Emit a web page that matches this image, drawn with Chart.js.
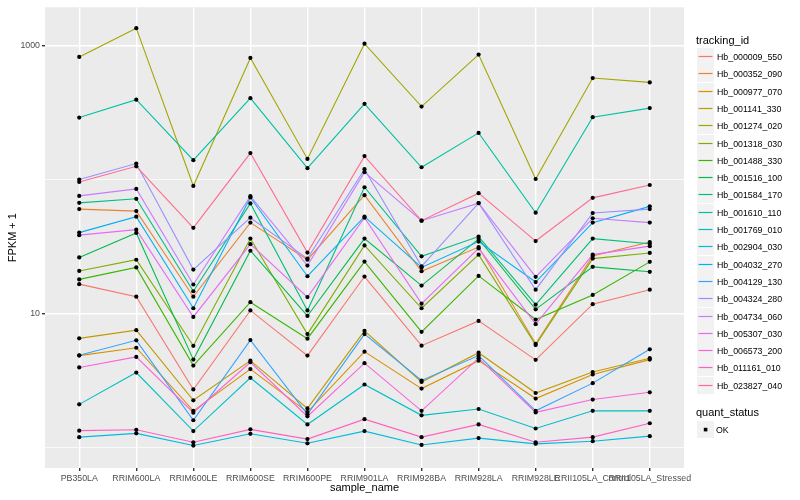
<!DOCTYPE html>
<html>
<head>
<meta charset="utf-8">
<script src="https://cdn.jsdelivr.net/npm/chart.js@4.4.1/dist/chart.umd.min.js"></script>
<style>
body { margin: 0; background: #fff; font-family: "Liberation Sans", Arial, sans-serif; }
#wrap { position: relative; width: 800px; height: 500px; }
.lg-title { position: absolute; font-size: 11px; color: #000; line-height: 14px; }
.lg-lab { position: absolute; font-size: 8.8px; color: #000; line-height: 12px; white-space: nowrap; }
</style>
</head>
<body>
<div id="wrap">
  <canvas id="myChart" width="800" height="500"></canvas>
</div>
<script>
const categories = ['PB350LA', 'RRIM600LA', 'RRIM600LE', 'RRIM600SE', 'RRIM600PE', 'RRIM901LA',
    'RRIM928BA', 'RRIM928LA', 'RRIM928LE', 'RRII105LA_Control', 'RRII105LA_Stressed'];

const trackingIds = ['Hb_000009_550', 'Hb_000352_090', 'Hb_000977_070', 'Hb_001141_330', 'Hb_001274_020',
    'Hb_001318_030', 'Hb_001488_330', 'Hb_001516_100', 'Hb_001584_170', 'Hb_001610_110',
    'Hb_001769_010', 'Hb_002904_030', 'Hb_004032_270', 'Hb_004129_130', 'Hb_004324_280',
    'Hb_004734_060', 'Hb_005307_030', 'Hb_006573_200', 'Hb_011161_010', 'Hb_023827_040'];

const colours = ['#F8766D', '#EA8331', '#D89000', '#C09B00', '#A3A500', '#7CAE00', '#39B600', '#00BB4E',
    '#00BF7D', '#00C1A3', '#00BFC4', '#00BAE0', '#00B0F6', '#35A2FF', '#9590FF', '#C77CFF',
    '#E76BF3', '#FA62DB', '#FF62BC', '#FF6C91'];

const yTicks = [1, 10, 100, 1000];
const yLabelled = [10, 1000];

// FPKM + 1 per sample, same order as categories
const hb_000009_550 = [16.5, 13.3, 2.70, 10.5, 4.83, 18.8, 5.73, 8.77, 4.49, 11.7, 15.0];
const hb_000352_090 = [59.9, 57.9, 13.3, 47.5, 25.1, 76.1, 20.6, 31.2, 5.92, 26.8, 34.0];
const hb_000977_070 = [4.83, 5.53, 1.87, 3.83, 1.83, 5.17, 2.74, 4.43, 2.31, 3.49, 4.51];
const hb_001141_330 = [6.50, 7.48, 2.24, 4.43, 1.95, 7.39, 3.07, 5.08, 2.54, 3.64, 4.62];
const hb_001274_020 = [819, 1343, 89.2, 805, 142, 1029, 349, 853, 100.5, 570, 529];
const hb_001318_030 = [20.7, 25.1, 5.72, 36.1, 6.99, 32.1, 10.9, 27.4, 5.79, 25.6, 28.2];
const hb_001488_330 = [17.9, 22.0, 4.07, 12.1, 6.46, 24.3, 7.27, 19.0, 8.98, 13.7, 24.2];
const hb_001516_100 = [26.1, 39.8, 4.51, 29.3, 9.55, 36.1, 16.1, 35.9, 10.7, 22.2, 20.4];
const hb_001584_170 = [66.7, 71.5, 14.6, 66.1, 10.5, 87.2, 26.6, 37.4, 11.6, 36.1, 33.0];
const hb_001610_110 = [289, 393, 139, 403, 121, 366, 123, 222, 56.3, 291, 340];
const hb_001769_010 = [2.09, 3.61, 1.32, 3.30, 1.48, 2.94, 1.73, 1.93, 1.38, 1.87, 1.87];
const hb_002904_030 = [1.19, 1.27, 1.03, 1.26, 1.07, 1.32, 1.04, 1.17, 1.06, 1.11, 1.21];
const hb_004032_270 = [40.0, 52.6, 10.9, 73.2, 18.9, 52.6, 22.0, 34.3, 17.1, 47.5, 62.8];
const hb_004129_130 = [4.86, 6.28, 1.59, 6.31, 1.76, 6.99, 3.15, 4.83, 1.87, 3.01, 5.38];
const hb_004324_280 = [99.5, 131, 21.2, 51.7, 25.6, 119, 22.4, 66.4, 15.0, 56.0, 59.9];
const hb_004734_060 = [75.2, 84.7, 16.4, 74.8, 22.7, 113, 49.1, 66.4, 18.7, 51.2, 47.5];
const hb_005307_030 = [38.3, 42.1, 9.39, 32.8, 13.2, 51.7, 11.8, 30.5, 8.29, 27.4, 31.7];
const hb_006573_200 = [3.94, 4.72, 1.81, 4.31, 1.70, 4.24, 1.87, 4.62, 1.82, 2.27, 2.57];
const hb_011161_010 = [1.33, 1.35, 1.09, 1.36, 1.15, 1.62, 1.19, 1.48, 1.09, 1.19, 1.51];
const hb_023827_040 = [95.5, 125, 43.4, 157, 28.4, 149, 49.1, 78.8, 34.6, 72.7, 90.7];

const allSeries = [hb_000009_550, hb_000352_090, hb_000977_070, hb_001141_330, hb_001274_020,
    hb_001318_030, hb_001488_330, hb_001516_100, hb_001584_170, hb_001610_110,
    hb_001769_010, hb_002904_030, hb_004032_270, hb_004129_130, hb_004324_280,
    hb_004734_060, hb_005307_030, hb_006573_200, hb_011161_010, hb_023827_040];

const fontFamily = '"Liberation Sans", Arial, sans-serif';

// legend placement (right of the panel)
const keyLeft = 697;
const keySize = 17;
const firstKeyTop = 48;
const keyStep = 17.3;
const okKeyTop = 421;

const datasets = [];
const allPoints = [];

for (let i = 0; i < allSeries.length; i++) {
    const pts = allSeries[i].map((v, j) => ({ x: j, y: v }));
    pts.forEach(p => allPoints.push(p));
    datasets.push({
        label: trackingIds[i],
        data: pts,
        showLine: true,
        borderColor: colours[i],
        backgroundColor: colours[i],
        borderWidth: 1.1,
        pointRadius: 0,
        order: allSeries.length - i
    });
}

// black dots on top of all lines
datasets.push({
    label: 'OK',
    data: allPoints,
    showLine: false,
    pointRadius: 2.1,
    pointBackgroundColor: '#000',
    pointBorderWidth: 0,
    order: -1
});

const panelBg = {
    id: 'panelBg',
    beforeDraw(chart) {
        const a = chart.chartArea;
        const c = chart.ctx;
        c.save();
        c.fillStyle = '#EBEBEB';
        c.fillRect(a.left, a.top, a.right - a.left, a.bottom - a.top);
        c.restore();
    }
};

// grey legend keys with a coloured line, the labels are html below
const legendKeys = {
    id: 'legendKeys',
    afterDraw(chart) {
        const c = chart.ctx;
        c.save();
        for (let i = 0; i < colours.length; i++) {
            const top = Math.round(firstKeyTop + i * keyStep);
            c.fillStyle = '#F2F2F2';
            c.fillRect(keyLeft, top, keySize, keySize);
            c.strokeStyle = colours[i];
            c.lineWidth = 1.2;
            c.beginPath();
            c.moveTo(keyLeft + 1.5, top + keySize / 2);
            c.lineTo(keyLeft + keySize - 1.5, top + keySize / 2);
            c.stroke();
        }
        c.fillStyle = '#F2F2F2';
        c.fillRect(keyLeft, okKeyTop, keySize, keySize);
        c.fillStyle = '#000';
        c.fillRect(keyLeft + 6.8, okKeyTop + 6.8, 3.6, 3.6);
        c.restore();
    }
};

const isMajor = v => yLabelled.includes(v);

var ctx = document.getElementById('myChart').getContext('2d');

var myChart = new Chart(ctx, { // eslint-disable-line
    type: 'scatter',
    data: { datasets: datasets },
    plugins: [panelBg, legendKeys],
    options: {
        responsive: false,
        animation: false,
        layout: { padding: { left: 0, top: 4, right: 116, bottom: 0 } },
        plugins: { legend: { display: false }, tooltip: { enabled: false } },
        scales: {
            x: {
                type: 'linear',
                min: -0.6,
                max: 10.6,
                afterBuildTicks: s => { s.ticks = categories.map((c, i) => ({ value: i })); },
                afterFit: s => { s.height = 32; },
                ticks: {
                    callback: v => categories[v],
                    autoSkip: false,
                    maxRotation: 0,
                    minRotation: 0,
                    padding: 2,
                    color: '#4D4D4D',
                    font: { size: 8.8, family: fontFamily }
                },
                grid: { color: '#FFFFFF', lineWidth: 1.4, tickLength: 3, tickColor: '#333333' },
                border: { display: false },
                title: {
                    display: true,
                    text: 'sample_name',
                    color: '#000',
                    font: { size: 11, family: fontFamily },
                    padding: { top: 0, bottom: 5 }
                }
            },
            y: {
                type: 'logarithmic',
                min: 0.72,
                max: 1923,
                afterBuildTicks: s => { s.ticks = yTicks.map(v => ({ value: v })); },
                afterFit: s => { s.width = 45; },
                ticks: {
                    callback: v => (isMajor(v) ? String(v) : ''),
                    padding: 2,
                    color: '#4D4D4D',
                    font: { size: 8.8, family: fontFamily }
                },
                grid: {
                    color: '#FFFFFF',
                    lineWidth: c => (c.tick && isMajor(c.tick.value) ? 1.4 : 0.7),
                    tickLength: 3,
                    tickColor: c => (c.tick && isMajor(c.tick.value) ? '#333333' : 'rgba(0,0,0,0)')
                },
                border: { display: false },
                title: {
                    display: true,
                    text: 'FPKM + 1',
                    color: '#000',
                    font: { size: 11, family: fontFamily },
                    padding: { top: 6, bottom: 0 }
                }
            }
        }
    }
});

// legend text
function renderLegend() {
    const wrap = document.getElementById('wrap');

    const title = document.createElement('div');
    title.className = 'lg-title';
    title.textContent = 'tracking_id';
    title.style.left = '696px';
    title.style.top = '33px';
    wrap.append(title);

    for (let i = 0; i < trackingIds.length; i++) {
        const top = Math.round(firstKeyTop + i * keyStep);
        const lab = document.createElement('div');
        lab.className = 'lg-lab';
        lab.textContent = trackingIds[i];
        lab.style.left = '717px';
        lab.style.top = (top + 2.5) + 'px';
        wrap.append(lab);
    }

    const title2 = document.createElement('div');
    title2.className = 'lg-title';
    title2.textContent = 'quant_status';
    title2.style.left = '696px';
    title2.style.top = '405px';
    wrap.append(title2);

    const lab = document.createElement('div');
    lab.className = 'lg-lab';
    lab.textContent = 'OK';
    lab.style.left = '716px';
    lab.style.top = (okKeyTop + 2.5) + 'px';
    wrap.append(lab);
}
renderLegend();
</script>
</body>
</html>
